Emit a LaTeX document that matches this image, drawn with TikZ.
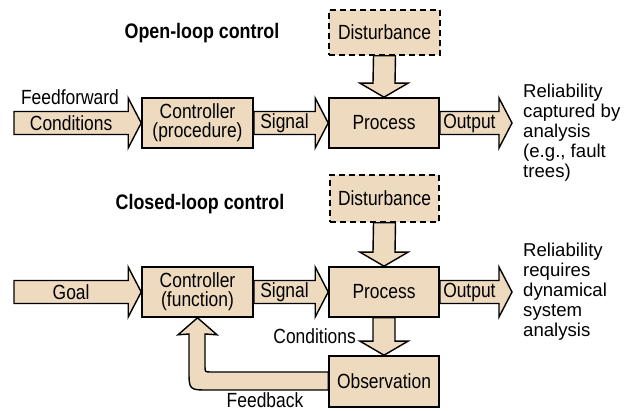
\documentclass[tikz,border=0pt]{standalone}
\usepackage{fontspec}
\setmainfont{Liberation Sans}[FakeStretch=0.85]
\newfontfamily\widefont{Liberation Sans}
\usetikzlibrary{calc,backgrounds}
\definecolor{tan}{RGB}{238,218,190}
\tikzset{
  block/.style={draw, fill=tan, line width=1.6pt, minimum width=110pt, minimum height=50pt,
    inner sep=0pt, align=center, font=\fontsize{20.5}{19}\selectfont},
  dashblock/.style={block, dash pattern=on 6pt off 4pt},
  fat/.style={draw, fill=tan, line width=1.4pt, line join=miter},
  lbl/.style={inner sep=0pt, font=\fontsize{20.5}{22}\selectfont},
  title/.style={inner sep=0pt, font=\fontsize{21}{24}\selectfont\bfseries},
  remark/.style={inner sep=0pt, anchor=north west, align=left, font=\widefont\fontsize{18.6}{20}\selectfont},
}
% horizontal block arrow: start, tip, label
\newcommand{\harrow}[3]{%
  \filldraw[fat] ($(#1)+(0,-11.5)$) -- ($(#2)+(-13,-11.5)$) -- ($(#2)+(-13,-25)$) -- (#2)
    -- ($(#2)+(-13,25)$) -- ($(#2)+(-13,11.5)$) -- ($(#1)+(0,11.5)$) -- cycle;
  \node[lbl] at ($(#1)!0.5!(#2)+(-6.5,0)$) {#3};}
% vertical block arrow: start, tip
\newcommand{\varrow}[2]{%
  \filldraw[fat] ($(#1)+(-11,0)$) -- ($(#2)+(-11,-14)$) -- ($(#2)+(-24,-14)$) -- (#2)
    -- ($(#2)+(24,-14)$) -- ($(#2)+(11,-14)$) -- ($(#1)+(11,0)$) -- cycle;}

\begin{document}
\begin{tikzpicture}[x=1pt,y=-1pt]
\useasboundingbox (0,0) rectangle (629,411);

% open loop
\node[title] (opentitle) at (202,33) {Open-loop control};
\node[dashblock, minimum width=111pt, minimum height=45pt] (dist1) at (384.5,32.5) {Disturbance};
\node[block, minimum width=111pt] (ctrl1) at (197.5,123) {Controller\\(procedure)};
\node[block] (proc1) at (384,123) {Process};
\coordinate (cond1) at (14,123);
\node[lbl] (ffwd) at (70,97) {Feedforward};
\node[remark] (rel1) at (523,84) {Reliability\\captured by\\analysis\\(e.g., fault\\trees)};
\coordinate (out1) at (512,123);

% closed loop
\node[title] (closedtitle) at (200,204) {Closed-loop control};
\node[dashblock, minimum width=109pt, minimum height=47pt] (dist2) at (384.5,198.5) {Disturbance};
\node[block, minimum width=111pt] (ctrl2) at (197.5,292) {Controller\\(function)};
\node[block] (proc2) at (384,292) {Process};
\node[block, minimum height=51pt] (obs) at (384,381.5) {Observation};
\coordinate (goal) at (14,292);
\coordinate (out2) at (512,292);
\node[lbl, anchor=east] (condlbl) at (356,336) {Conditions};
\node[lbl] (fbk) at (265,400) {Feedback};
\node[remark] (rel2) at (523,243) {Reliability\\requires\\dynamical\\system\\analysis};

\begin{scope}[on background layer]
\harrow{cond1}{ctrl1.west}{Conditions}
\harrow{ctrl1.east}{proc1.west}{Signal}
\harrow{proc1.east}{out1}{Output}
\varrow{dist1.south}{proc1.north}
\harrow{goal}{ctrl2.west}{Goal}
\harrow{ctrl2.east}{proc2.west}{Signal}
\harrow{proc2.east}{out2}{Output}
\varrow{dist2.south}{proc2.north}
\varrow{proc2.south}{obs.north}
% feedback loop
\filldraw[fat] ($(obs.west)+(0,8.5)$) -- (209,390) .. controls (189,390) .. (189,370)
  -- (189,334) -- ($(ctrl2.south)+(-19.5,17)$) -- (ctrl2.south) -- ($(ctrl2.south)+(19.5,17)$)
  -- (205,334) -- (205,366) .. controls (205,372) .. (211,372) -- ($(obs.west)+(0,-9.5)$) -- cycle;
\end{scope}
\end{tikzpicture}
\end{document}
